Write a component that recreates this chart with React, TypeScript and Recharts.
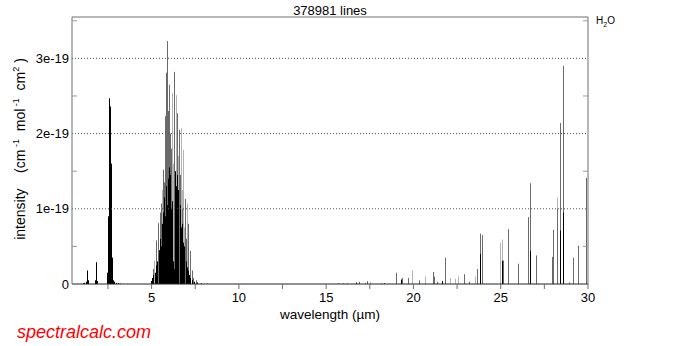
import { ComposedChart, Bar, XAxis, YAxis, ReferenceLine } from 'recharts';

// line intensities are in units of 1e-19 cm-1/(mol cm-2)
const lightWavelength = [
  5.15, 5.6, 6.15, 6.2, 6.39, 6.52, 6.66, 6.72, 6.81, 6.86, 7.0,
  17.5, 19.89, 20.65, 22.08, 22.37, 22.56, 23.52, 24.95, 25.06, 28.2,
];
const lightIntensity = [
  0.31, 1.25, 2.54, 1.6, 2.51, 1.7, 2.07, 1.25, 1.78, 0.75, 1.07,
  0.03, 0.18, 0.1, 0.08, 0.07, 0.1, 0.1, 0.55, 0.59, 1.15,
];

const grayWavelength = [
  5.06, 5.25, 5.38, 5.48, 5.52, 5.63, 5.7, 5.76, 5.78, 5.84, 5.89, 5.96, 6.01, 6.06, 6.12,
  6.29, 6.43, 6.47, 6.58, 6.62, 6.76, 6.91, 6.98, 7.1, 7.19, 7.29, 7.35, 7.54,
  15.69, 15.97, 16.17, 16.87, 17.22, 17.35, 18.17, 19.03, 19.35, 19.7, 20.33, 21.13, 21.19,
  21.36, 21.82, 22.9, 23.19, 23.65, 23.84, 23.9, 23.94, 25.14, 25.39, 26.0, 26.57, 26.67,
  27.05, 27.91, 28.0, 28.2, 28.39, 28.57, 28.92, 29.15, 29.4, 29.86, 29.91,
];
const grayIntensity = [
  0.2, 0.58, 0.81, 0.95, 1.07, 1.52, 1.35, 2.23, 1.9, 2.81, 3.23, 2.3, 2.65, 2.0, 1.8,
  2.82, 2.27, 1.9, 2.05, 1.45, 1.0, 1.13, 0.6, 0.8, 0.44, 0.18, 0.08, 0.05,
  0.01, 0.01, 0.01, 0.03, 0.01, 0.04, 0.01, 0.15, 0.08, 0.08, 0.05, 0.16, 0.1,
  0.03, 0.35, 0.13, 0.03, 0.2, 0.67, 0.65, 0.1, 0.31, 0.73, 0.27, 0.89, 1.34,
  0.38, 0.36, 0.72, 1.0, 2.14, 2.9, 0.02, 0.35, 0.51, 1.41, 0.13,
];

const blackWavelength = [
  1.05, 1.13, 1.27, 1.29, 1.31, 1.32, 1.34, 1.36, 1.77, 1.79, 1.81, 1.82, 1.84, 1.86, 1.9,
  2.44, 2.47, 2.49, 2.51, 2.53, 2.55, 2.57, 2.58, 2.6, 2.61, 2.62, 2.64, 2.65, 2.66, 2.68,
  2.7, 2.72, 2.74, 2.76, 2.79, 2.85, 2.95, 3.05, 3.2,
  4.95, 5.02, 5.1, 5.2, 5.28, 5.33, 5.4, 5.45, 5.5, 5.55, 5.58, 5.62, 5.66, 5.7, 5.73,
  5.78, 5.81, 5.86, 5.92, 5.95, 5.98, 6.04, 6.07, 6.11, 6.15, 6.18, 6.21, 6.27, 6.33,
  6.36, 6.41, 6.46, 6.5, 6.54, 6.6, 6.63, 6.69, 6.73, 6.78, 6.84, 6.88, 6.95, 7.02,
  7.08, 7.15, 7.22, 7.3, 7.42, 7.6, 7.85, 8.2,
  16.7, 18.3, 19.28, 21.64, 23.84, 25.1, 26.67, 28.39, 28.57,
];
const blackIntensity = [
  0.01, 0.015, 0.03, 0.08, 0.18, 0.13, 0.05, 0.02, 0.05, 0.13, 0.29, 0.2, 0.1, 0.04, 0.02,
  0.05, 0.15, 0.35, 0.6, 0.9, 1.4, 2.1, 2.47, 2.36, 2.3, 2.34, 2.0, 1.6, 1.15, 0.8,
  0.55, 0.35, 0.2, 0.1, 0.05, 0.03, 0.015, 0.01, 0.005,
  0.04, 0.08, 0.12, 0.15, 0.25, 0.3, 0.45, 0.35, 0.6, 0.5, 0.8, 0.65, 0.95, 0.8, 1.15,
  0.9, 1.3, 1.05, 1.4, 1.1, 1.55, 1.2, 1.45, 1.0, 1.1, 0.7, 0.3, 0.2, 1.2,
  1.5, 1.3, 1.45, 1.1, 1.25, 0.95, 1.05, 0.75, 0.8, 0.55, 0.5, 0.38, 0.3, 0.22,
  0.18, 0.12, 0.08, 0.05, 0.03, 0.02, 0.01, 0.005,
  0.02, 0.01, 0.06, 0.04, 0.4, 0.31, 0.44, 0.71, 0.95,
];

const xTicks = [2.5, 5, 7.5, 10, 12.5, 15, 17.5, 20, 22.5, 25, 27.5, 30];
const yTicks = [0, 0.5, 1, 1.5, 2, 2.5, 3, 3.5];
const yMax = 3.55;
const xMin = 0.44;
const xMax = 30;

const FONT = '"Liberation Sans", Arial, Helvetica, sans-serif';
const FRAME = '#6e6e6e';

type Row = { wl: number; light: number; gray: number; black: number };

const rows: Row[] = [
  ...lightWavelength.map((wl, i) => ({ wl, light: lightIntensity[i], gray: 0, black: 0 })),
  ...grayWavelength.map((wl, i) => ({ wl, light: 0, gray: grayIntensity[i], black: 0 })),
  ...blackWavelength.map((wl, i) => ({ wl, light: 0, gray: 0, black: blackIntensity[i] })),
];

const stick = (color: string) => (props: any) => {
  const { x, y, width, height } = props;
  if (!height || height <= 0) return <g />;
  const cx = Math.round(x + width / 2) + 0.5;
  return <line x1={cx} x2={cx} y1={y} y2={y + height} stroke={color} strokeWidth={1} />;
};

const LeftTick = (props: any) => {
  const { x, y, payload } = props;
  const v = payload.value;
  if (Number.isInteger(v)) {
    return (
      <text x={x - 3} y={y} dy="0.36em" textAnchor="end" fontSize={13} fontFamily={FONT} fill="#000">
        {v === 0 ? '0' : `${v}e-19`}
      </text>
    );
  }
  return <line x1={x} x2={x + 5} y1={y} y2={y} stroke="#999" />;
};

const RightTick = (props: any) => {
  const { x, y, payload } = props;
  if (Number.isInteger(payload.value)) return <g />;
  return <line x1={x - 5} x2={x} y1={y} y2={y} stroke="#999" />;
};

export default function App() {
  return (
    <div style={{ position: 'absolute', left: 0, top: 0, width: 691, height: 346, background: '#fff' }}>
      <ComposedChart
        width={691}
        height={346}
        data={rows}
        margin={{ top: 17, right: 93, bottom: 32, left: 12 }}
      >
        <XAxis
          dataKey="wl"
          type="number"
          domain={[xMin, xMax]}
          ticks={xTicks}
          interval={0}
          allowDataOverflow
          height={30}
          tickSize={5}
          tickMargin={4}
          tickLine={{ stroke: FRAME }}
          axisLine={{ stroke: '#222' }}
          tick={{ fontSize: 13, fill: '#000', fontFamily: FONT }}
          tickFormatter={(v: number) => (v % 5 === 0 ? String(v) : '')}
        />
        <YAxis
          yAxisId="left"
          type="number"
          domain={[0, yMax]}
          ticks={yTicks}
          interval={0}
          allowDataOverflow
          width={60}
          tickSize={0}
          tickMargin={0}
          tickLine={false}
          axisLine={{ stroke: FRAME }}
          tick={<LeftTick />}
        />
        <YAxis
          yAxisId="right"
          orientation="right"
          type="number"
          domain={[0, yMax]}
          ticks={yTicks}
          interval={0}
          allowDataOverflow
          width={10}
          tickSize={0}
          tickMargin={0}
          tickLine={false}
          axisLine={{ stroke: FRAME }}
          tick={<RightTick />}
        />
        {[1, 2, 3].map((v) => (
          <ReferenceLine key={v} yAxisId="left" y={v} stroke="#555" strokeDasharray="1 2" />
        ))}
        <ReferenceLine yAxisId="left" y={yMax} stroke={FRAME} />
        <Bar yAxisId="left" dataKey="light" stackId="s" barSize={1} shape={stick('#b4b4b4')} isAnimationActive={false} />
        <Bar yAxisId="left" dataKey="gray" stackId="s" barSize={1} shape={stick('#6a6a6a')} isAnimationActive={false} />
        <Bar yAxisId="left" dataKey="black" stackId="s" barSize={1} shape={stick('#000')} isAnimationActive={false} />
      </ComposedChart>
      <svg
        width={691}
        height={346}
        style={{ position: 'absolute', left: 0, top: 0, pointerEvents: 'none' }}
        fontFamily={FONT}
      >
        <text x={330} y={15} textAnchor="middle" fontSize={13} fill="#000">378981 lines</text>
        <text x={596} y={24} fontSize={10} fill="#000">
          H<tspan dy={3} fontSize={7}>2</tspan><tspan dy={-3}>O</tspan>
        </text>
        <text transform="translate(25,149) rotate(-90)" textAnchor="middle" fontSize={14} fill="#000">
          intensity{'\u00a0\u00a0\u00a0\u00a0'}(cm
          <tspan dy={-6} fontSize={9}>{'\u00a0-1'}</tspan>
          <tspan dy={6}>{'\u00a0\u00a0mol'}</tspan>
          <tspan dy={-6} fontSize={9}>{'\u00a0-1'}</tspan>
          <tspan dy={6}>{'\u00a0\u00a0cm'}</tspan>
          <tspan dy={-6} fontSize={9}>2</tspan>
          <tspan dy={6}>{'\u00a0)'}</tspan>
        </text>
        <text x={330} y={319} textAnchor="middle" fontSize={13.5} fill="#000">wavelength (µm)</text>
        <text x={17} y={338} fontSize={18} fontStyle="italic" fill="#ff0000">spectralcalc.com</text>
      </svg>
    </div>
  );
}
